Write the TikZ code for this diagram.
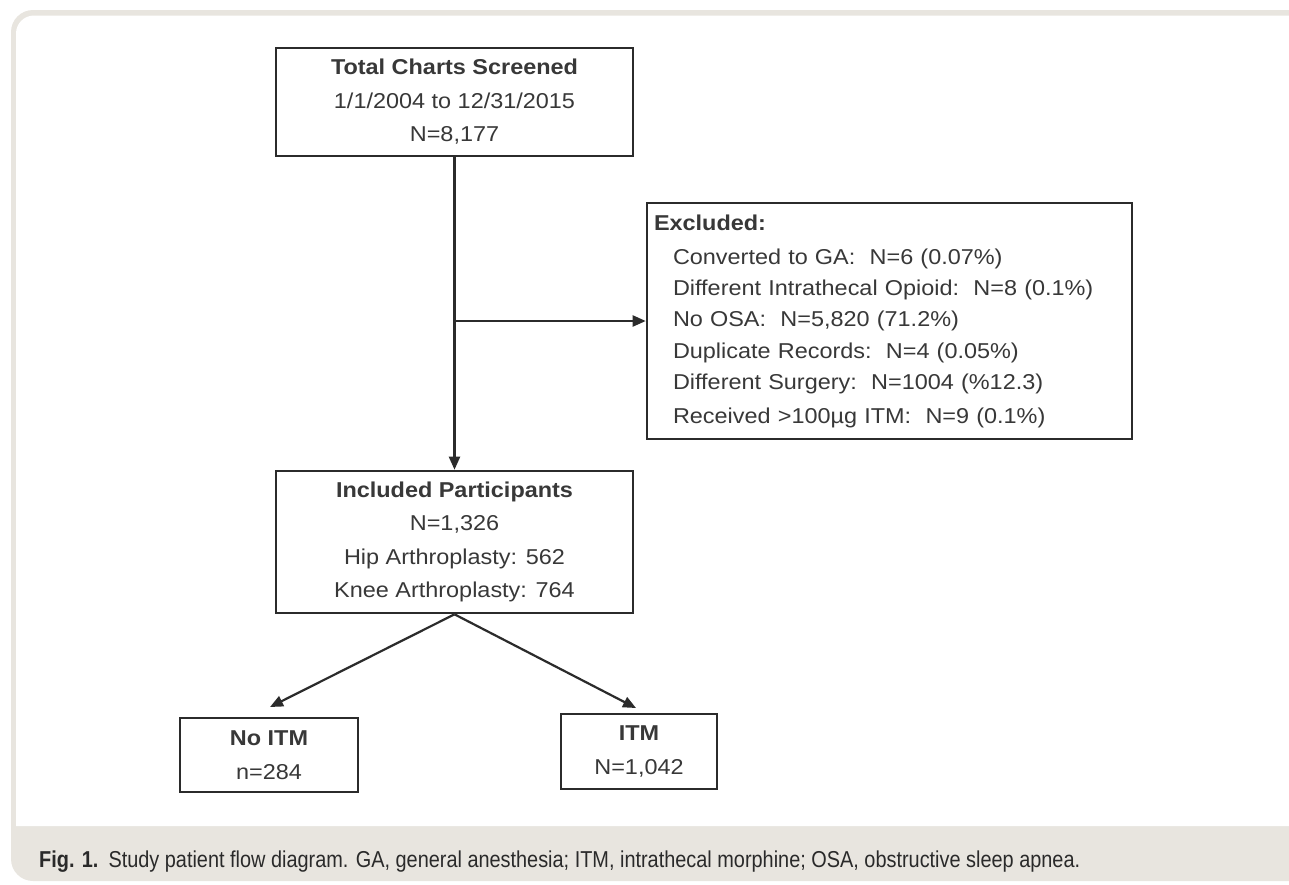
\documentclass[tikz,border=0pt]{standalone}
\usepackage{fontspec}
\setmainfont{Liberation Sans}
\newfontfamily\diafont[FakeStretch=1.09]{Liberation Sans}
\newfontfamily\capfont[FakeStretch=0.865]{Liberation Sans}
\usetikzlibrary{arrows.meta}
\definecolor{beige}{HTML}{E8E5DF}
\definecolor{boxc}{HTML}{2B2B2B}
\definecolor{txtc}{HTML}{383838}
\definecolor{capc}{HTML}{2A2A2A}
\begin{document}
\begin{tikzpicture}[x=1pt,y=-1pt,
  box/.style={draw=boxc, line width=2.6pt, fill=white, inner sep=0pt, align=center,
    font=\diafont\fontsize{21.5}{33.5}\selectfont, text=txtc},
  conn/.style={draw=boxc, line width=2.2pt, -{Triangle[length=13pt,width=11pt]}}
]
\useasboundingbox (0,0) rectangle (1289,884);
\fill[beige, rounded corners=22pt] (11,10) rectangle (1330,881);
\fill[white] (16,826) [rounded corners=18pt] -- (16,15.5) -- (1330,15.5) [sharp corners] -- (1330,826) -- cycle;

\node[box, minimum width=357pt, minimum height=108pt] (top) at (454.5,102)
  {{\bfseries Total Charts Screened}\\ 1/1/2004 to 12/31/2015\\ N=8,177};

\node[box, align=left, text width=471pt, inner xsep=7pt, minimum height=236pt] (exc) at (889.5,321)
  {\fontsize{21.5}{31.4}\selectfont{\bfseries Excluded:}\\[2.6pt]
   \hspace*{19pt}Converted to GA:\ \ N=6 (0.07\%)\\
   \hspace*{19pt}Different Intrathecal Opioid:\ \ N=8 (0.1\%)\\
   \hspace*{19pt}No OSA:\ \ N=5,820 (71.2\%)\\
   \hspace*{19pt}Duplicate Records:\ \ N=4 (0.05\%)\\
   \hspace*{19pt}Different Surgery:\ \ N=1004 (\%12.3)\\
   \hspace*{19pt}Received >100µg ITM:\ \ N=9 (0.1\%)};

\node[box, minimum width=357pt, minimum height=142pt] (inc) at (454.5,542)
  {{\bfseries Included Participants}\\ N=1,326\\ Hip Arthroplasty: 562\\ Knee Arthroplasty: 764};

\node[box, minimum width=178pt, minimum height=74pt] (noitm) at (269,755)
  {{\bfseries No ITM}\\ n=284};

\node[box, minimum width=156pt, minimum height=75pt] (itm) at (639,751.5)
  {{\bfseries ITM}\\ N=1,042};

\coordinate (br) at (top.south |- exc.west);
\coordinate (tl) at (270,707);
\coordinate (tr) at (636,708);
\draw[conn] (top.south) -- (inc.north);
\draw[conn] (br) -- (exc.west);
\draw[conn] (inc.south) -- (tl);
\draw[conn] (inc.south) -- (tr);

\node[anchor=base west, inner sep=0pt, text=capc, font=\capfont\fontsize{23}{27}\selectfont] (cap) at (39,867)
  {\textbf{Fig. 1.}\hspace{10pt}Study patient flow diagram. GA, general anesthesia; ITM, intrathecal morphine; OSA, obstructive sleep apnea.};
\end{tikzpicture}
\end{document}
